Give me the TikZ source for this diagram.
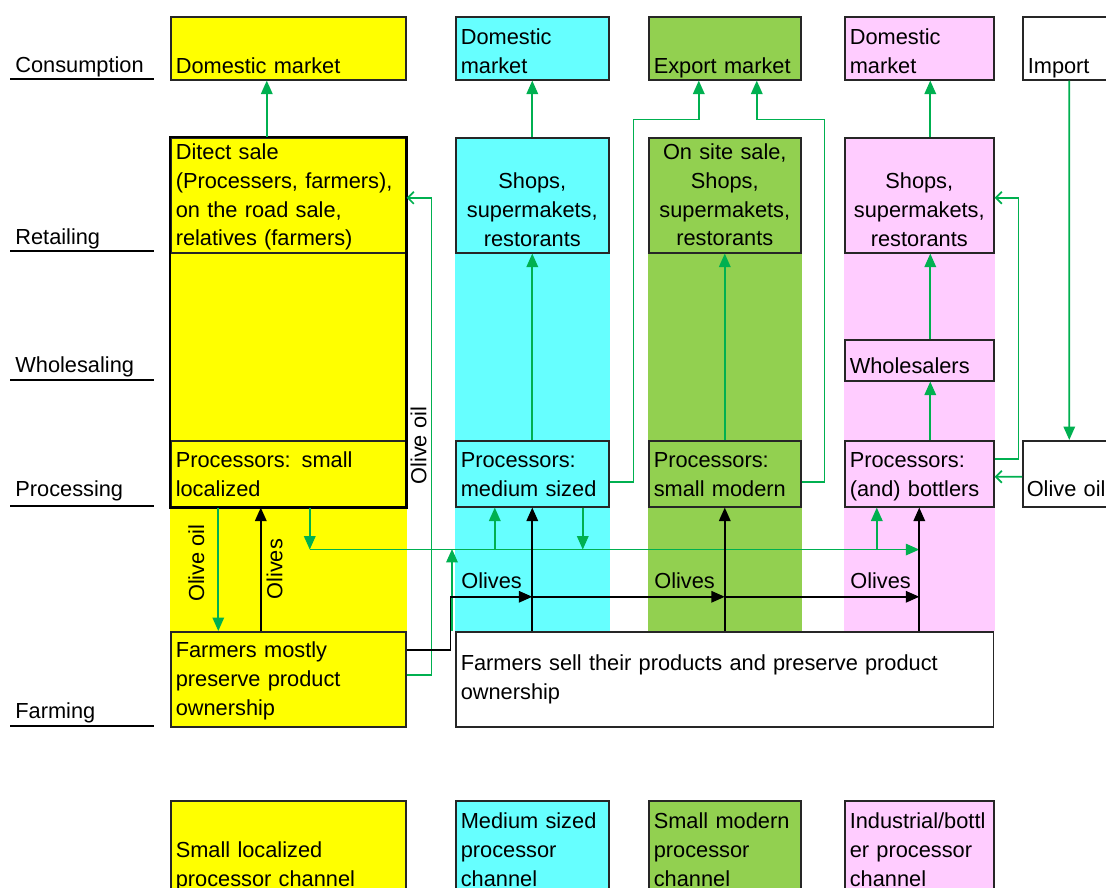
\documentclass[tikz,border=0pt]{standalone}
\usepackage{fontspec}
\setmainfont{Liberation Sans}
\usetikzlibrary{arrows.meta}
\usetikzlibrary{backgrounds}
\definecolor{chyellow}{HTML}{FFFF00}
\definecolor{chcyan}{HTML}{66FFFF}
\definecolor{chgreen}{HTML}{92D050}
\definecolor{chpink}{HTML}{FFCCFF}
\definecolor{arrowgreen}{HTML}{00B050}
\newcommand{\chainfont}{\fontsize{12.4}{16.3}\selectfont}
\tikzset{
        % Boxes of the chain
        chainbox/.style={draw=black!85, line width=0.9pt, anchor=north west, inner xsep=0.1cm, inner ysep=0pt, align=left, font=\chainfont},
        % Level names on the left
        rowlabel/.style={anchor=south west, inner xsep=0.1cm, inner ysep=0pt, text width=2.66cm, text height=0.4cm, align=left, font=\chainfont},
        % Thick outline of the small localized channel
        frame/.style={draw=black, line width=1.7pt},
        % Olive oil flows
        flow/.style={draw=arrowgreen, line width=1pt, -{Triangle[length=0.27cm,width=0.23cm]}},
        % Olive oil flows, small heads
        oilin/.style={draw=arrowgreen, line width=1pt, -{Straight Barb[length=0.12cm,width=0.24cm]}},
        % Olive flows
        goods/.style={draw=black, line width=1pt, -{Triangle[length=0.27cm,width=0.23cm]}},
        % Labels on the flows
        flowlabel/.style={font=\chainfont, rotate=90}
}
\begin{document}
\begin{tikzpicture}[x=0.02cm, y=-0.02cm]
    \useasboundingbox (0,0) rectangle (1106,888);

    % consumption
    \node[chainbox, fill=chyellow, text width=4.5cm, text height=1.14cm, text depth=0.12cm] (dom1) at (170,16) {Domestic market};
    \node[chainbox, fill=chcyan, text width=2.86cm, text height=0.56cm, text depth=0.70cm] (dom2) at (455,16) {Domestic\\market};
    \node[chainbox, fill=chgreen, text width=2.84cm, text height=1.14cm, text depth=0.12cm] (export) at (648,16) {Export market};
    \node[chainbox, fill=chpink, text width=2.78cm, text height=0.56cm, text depth=0.70cm] (dom4) at (844,16) {Domestic\\market};
    \node[chainbox, fill=white, text width=1.66cm, text height=1.14cm, text depth=0.12cm] (import) at (1022,16) {Import};

    % retailing
    \node[chainbox, fill=chyellow, text width=4.5cm, text height=0.44cm, text depth=1.86cm] (ret1) at (170,137) {Ditect sale\\(Processers, farmers),\\on the road sale,\\relatives (farmers)};
    \node[chainbox, align=center, fill=chcyan, text width=2.86cm, text height=1.02cm, text depth=1.28cm] (ret2) at (455,137) {Shops,\\supermakets,\\restorants};
    \node[chainbox, align=center, fill=chgreen, text width=2.84cm, text height=0.44cm, text depth=1.86cm] (ret3) at (648,137) {On site sale,\\Shops,\\supermakets,\\restorants};
    \node[chainbox, align=center, fill=chpink, text width=2.78cm, text height=1.02cm, text depth=1.28cm] (ret4) at (844,137) {Shops,\\supermakets,\\restorants};

    % wholesaling
    \node[chainbox, fill=chpink, text width=2.78cm, text height=0.68cm, text depth=0.14cm] (whl4) at (844,339) {Wholesalers};

    % processing
    \node[chainbox, fill=chyellow, text width=4.5cm, text height=0.54cm, text depth=0.78cm] (pro1) at (170,440) {Processors: small\\localized};
    \node[chainbox, fill=chcyan, text width=2.86cm, text height=0.54cm, text depth=0.78cm] (pro2) at (455,440) {Processors:\\medium sized};
    \node[chainbox, fill=chgreen, text width=2.84cm, text height=0.54cm, text depth=0.78cm] (pro3) at (648,440) {Processors:\\small modern};
    \node[chainbox, fill=chpink, text width=2.78cm, text height=0.54cm, text depth=0.78cm] (pro4) at (844,440) {Processors:\\(and) bottlers};
    \node[chainbox, fill=white, inner xsep=0.08cm, text width=1.7cm, text height=1.12cm, text depth=0.20cm] (oil5) at (1022,440) {Olive oil};

    % farming
    \node[chainbox, fill=chyellow, text width=4.5cm, text height=0.52cm, text depth=1.38cm] (frm1) at (170,631) {Farmers mostly\\preserve product\\ownership};
    \node[chainbox, fill=white, text width=10.56cm, text height=0.78cm, text depth=1.12cm] (frm2) at (455,631) {Farmers sell their products and preserve product\\ownership};

    % channels
    \node[chainbox, fill=chyellow, text width=4.5cm, text height=1.14cm, text depth=1.06cm] (leg1) at (170,800) {Small localized\\processor channel};
    \node[chainbox, fill=chcyan, text width=2.86cm, text height=0.56cm, text depth=1.64cm] (leg2) at (455,800) {Medium sized\\processor\\channel};
    \node[chainbox, fill=chgreen, text width=2.84cm, text height=0.56cm, text depth=1.64cm] (leg3) at (648,800) {Small modern\\processor\\channel};
    \node[chainbox, fill=chpink, text width=2.78cm, text height=0.56cm, text depth=1.64cm] (leg4) at (844,800) {Industrial/bottl\\er processor\\channel};

    % level names
    \foreach \lab/\ly/\ld in {Consumption/79/0.12cm, Retailing/251/0.12cm, Wholesaling/380/0.14cm, Processing/506/0.18cm, Farming/726/0.14cm} {
        \node[rowlabel, text depth=\ld] (row-\lab) at (10,\ly) {\lab};
        \draw[line width=0.9pt] (row-\lab.south west) -- (row-\lab.south east);
    }

    \begin{scope}[on background layer]
        \fill[white] (0,0) rectangle (1106,888);
        \fill[chyellow] (ret1.north west) rectangle (frm1.north east);
        \fill[chcyan] (ret2.north west) rectangle (frm2.north -| ret2.east);
        \fill[chgreen] (ret3.north west) rectangle (frm2.north -| ret3.east);
        \fill[chpink] (ret4.north west) rectangle (frm2.north -| ret4.east);
    \end{scope}
    \draw[frame] (ret1.north west) rectangle (pro1.south east);

    % up to the markets
    \draw[flow] ([xshift=-0.43cm]ret1.north) -- ([xshift=-0.43cm]dom1.south);
    \draw[flow] (ret2.north) -- (dom2.south);
    \draw[flow] (pro2.north) -- (ret2.south);
    \draw[flow] (pro3.north) -- (ret3.south);
    \draw[flow] ([xshift=0.22cm]ret4.north) -- ([xshift=0.22cm]dom4.south);
    \draw[flow] ([xshift=0.22cm]whl4.north) -- ([xshift=0.22cm]ret4.south);
    \draw[flow] ([xshift=0.22cm]pro4.north) -- ([xshift=0.22cm]whl4.south);
    \draw[flow] (import.south) -- (oil5.north);
    \draw[flow] ([yshift=-0.16cm]pro2.east) -- ++(24,0) |- ([xshift=-0.52cm,yshift=-0.78cm]export.south) -- ([xshift=-0.52cm]export.south);
    \draw[flow] ([yshift=-0.16cm]pro3.east) -- ++(23,0) |- ([xshift=0.64cm,yshift=-0.78cm]export.south) -- ([xshift=0.64cm]export.south);
    \draw[oilin] ([yshift=0.3cm]pro4.east) -- ++(24,0) |- ([yshift=-0.05cm]ret4.east);
    \draw[oilin] ([yshift=-0.06cm]oil5.west) -- ([yshift=-0.06cm]pro4.east);

    % small localized channel
    \draw[flow] ([xshift=-1.4cm]pro1.south) -- ([xshift=-1.4cm]frm1.north) node[flowlabel, pos=0.45, anchor=south, inner sep=0.26cm] {Olive oil};
    \draw[goods] ([xshift=-0.55cm]frm1.north) -- ([xshift=-0.55cm]pro1.south) node[flowlabel, pos=0.5, anchor=north, inner sep=0.1cm] {Olives};
    \draw[oilin] ([yshift=0.09cm]frm1.east) -- ++(25,0) |- ([yshift=-0.05cm]ret1.east) node[flowlabel, pos=0.24, anchor=south, inner sep=0.08cm] {Olive oil};

    % oil between processors
    \draw[flow] ([xshift=0.43cm]pro1.south) -- ++(0,42) coordinate (oilrow);
    \draw[flow] (oilrow) -- (oilrow -| pro4.south);
    \draw[flow] ([xshift=-0.75cm,yshift=-0.84cm]pro2.south) -- ([xshift=-0.75cm]pro2.south);
    \draw[flow] ([xshift=1.01cm]pro2.south) -- ++(0,42);
    \draw[flow] ([xshift=-0.85cm,yshift=-0.84cm]pro4.south) -- ([xshift=-0.85cm]pro4.south);
    \draw[flow] ([xshift=-0.06cm]frm2.north west) -- ++(0,-82);

    % olives to processors
    \draw[goods] ([yshift=0.59cm]frm1.east) -- ++(44,0) -- ++(0,-53) coordinate (olrow) -- (olrow -| pro2.south);
    \draw[goods] (olrow -| pro2.south) -- (olrow -| pro3.south);
    \draw[goods] (olrow -| pro3.south) -- (olrow -| pro4.south);
    \foreach \p in {pro2,pro3,pro4} {
        \draw[goods] (\p.south |- frm2.north) -- (\p.south);
        \node[font=\chainfont, anchor=base west, inner sep=0pt] (olv-\p) at ([xshift=0.12cm,yshift=-1.62cm]\p.south west) {Olives};
    }
\end{tikzpicture}
\end{document}
